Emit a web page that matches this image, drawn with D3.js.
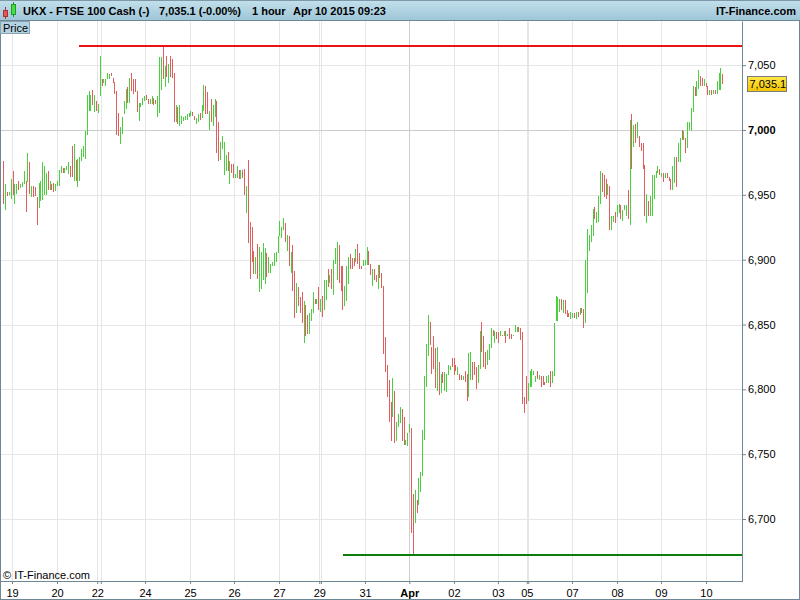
<!DOCTYPE html>
<html><head><meta charset="utf-8">
<script src="https://cdn.jsdelivr.net/npm/d3@7"></script>
<style>html,body{margin:0;padding:0;background:#fff;}svg{display:block;font-family:Arial,"Liberation Sans",sans-serif;}</style>
</head><body>
<svg id="chart" width="800" height="600"></svg>
<script>
// ---- data (hourly candles, Mar 19 - Apr 10 2015) ----
const opens = [
6976,6938,6952,6950,6947,6968,6943,6951,6961,6955,6956,6958,6961,6960,6975,6948,6957,6956,6948,6940,
6945,6946,6950,6950,6968,6954,6958,6959,6953,6957,6957,6967,6971,6967,6969,6966,6972,6988,6961,6977,
6956,6961,6976,6979,6978,6996,7015,7015,7031,7014,7022,7013,7026,7039,7036,7034,7039,7039,7044,7040,
7037,7030,7013,6989,6997,7012,7016,7033,7021,7044,7039,7039,7030,7007,7018,7019,7022,7027,7024,7020,
7020,7025,7023,7010,7013,7031,7065,7033,7057,7036,7057,7055,7044,7006,7018,7003,7005,7007,7008,7008,
7010,
7011,7014,7011,7005,7006,7013,7009,7015,7034,7029,7000,7024,7003,7010,7022,7006,6977,6985,6965,6968,
6983,6958,6974,6974,6963,6963,6969,6962,6969,6970,6936,6977,6929,6925,6907,6889,6912,6875,6877,6884,
6881,6905,6890,6890,6895,6895,6898,6905,6918,6917,6923,6928,6907,6918,6890,6911,6891,6859,6879,6871,
6875,6836,6865,6857,6843,6853,6859,6870,6866,6879,6860,6872,6861,6869,6893,6882,6893,6873,6897,6884,
6911,6895,6895,6864,6868,6881,6904,6901,6901,6898,6912,6905,6895,6895,6896,6896,6907,6897,6880,6893,
6888,6877,
6896,6890,
6880,6840,6819,6807,6790,6779,6799,6760,6771,6774,6785,6779,6757,6756,6766,6770,6719,6697,6715,6711,
6721,6733,6761,6802,6826,6852,6833,6841,6832,6799,6821,6797,6813,6799,6798,6811,6815,6824,6824,6819,
6811,6812,6811,6807,6814,6812,6794,6807,6821,6821,6817,6805,6816,6852,6841,6829,6819,6823,6832,6846,
6836,6844,6844,6841,6842,6841,6845,6841,6847,6843,6841,6844,6844,6848,6847,6844,6794,6810,6791,6802,
6802,6811,6806,6814,6807,6810,6810,6806,6805,6805,6814,6805,6810,6853,6853,6860,
6870,6859,6869,6861,6859,6854,6855,6859,6854,6860,6857,6863,6862,6851,6874,6907,6914,6918,6941,6928,
6929,6943,6967,6965,6962,6950,6957,6923,6929,6937,6933,6936,6942,6930,6938,6934,6954,6927,7012,6987,
7005,6994,6995,6990,6990,6973,6928,6945,6934,6934,6947,6963,6967,6970,6964,6967,6963,6967,6964,6962,
6954,6959,6979,6975,6975,7000,6992,6994,6986,7000,6999,7014,7033,7026,7032,7042,7040,7034,7036,7034,
7027,7031,7028,7031,7028,7031,7031,7043
];
const closes = [
6943,6958,6949,6952,6962,6950,6958,6958,6954,6958,6960,6968,6937,6982,6951,6957,6948,6949,6927,6959,
6961,6975,6972,6967,6954,6961,6954,6952,6958,6961,6969,6972,6967,6971,6972,6975,6964,6964,6989,6961,
6978,6979,6985,6988,6999,7027,7030,7027,7019,7027,7015,7020,7057,7034,7039,7039,7044,7043,7042,7036,
7028,6996,6995,7002,7010,7022,7032,7021,7040,7030,7028,7029,7014,7021,7021,7025,7026,7023,7020,7024,
7026,7019,7020,7026,7056,7056,7039,7049,7041,7051,7041,7040,7006,7019,7005,7019,7011,7010,7011,7012,
7013,
7015,7011,7008,7009,7012,7008,7019,7035,7012,7012,7015,7006,7019,7024,6982,6976,6991,6995,6991,6981,
6968,6976,6967,6963,6966,6972,6962,6969,6963,6950,6957,6913,6885,6898,6889,6902,6885,6910,6906,6913,
6909,6887,6902,6897,6898,6905,6906,6918,6930,6925,6932,6914,6919,6895,6906,6876,6855,6882,6864,6859,
6851,6868,6841,6843,6859,6862,6875,6866,6870,6861,6870,6856,6884,6884,6879,6888,6877,6900,6909,6914,
6882,6876,6861,6880,6895,6902,6893,6893,6895,6908,6897,6893,6893,6900,6900,6910,6896,6888,6893,6884,
6883,6896,
6886,6878,
6827,6813,6794,6775,6760,6809,6759,6775,6781,6786,6760,6757,6761,6766,6773,6689,6672,6722,6705,6732,
6736,6769,6810,6835,6857,6834,6812,6816,6801,6833,6796,6812,6805,6813,6812,6819,6818,6817,6811,6814,
6817,6807,6807,6810,6806,6791,6828,6829,6807,6811,6800,6819,6845,6829,6817,6816,6830,6835,6847,6841,
6845,6839,6836,6845,6841,6845,6836,6843,6839,6839,6842,6850,6848,6844,6838,6789,6782,6789,6805,6814,
6816,6814,6810,6808,6811,6802,6803,6803,6810,6811,6802,6814,6851,6872,6871,6870,
6861,6869,6858,6856,6856,6860,6859,6855,6860,6856,6863,6859,6847,6900,6924,6919,6927,6939,6931,6937,
6949,6968,6952,6948,6947,6958,6923,6934,6934,6928,6942,6943,6931,6938,6942,6942,6931,7008,6970,7004,
6990,7006,6987,6984,6970,6934,6951,6934,6949,6965,6965,6968,6972,6965,6967,6960,6967,6963,6961,6954,
6972,6979,6956,6990,6994,6992,6999,6982,7006,7006,7017,7034,7026,7038,7046,7034,7034,7039,7033,7027,
7031,7027,7031,7028,7038,7044,7048,7035.1
];
const priceTicks = [6700,6750,6800,6850,6900,6950,7000,7050];
// day separators, expressed in bar-index units
const dayStarts = [4.7,29,50.7,52.6,76.5,100.8,124.5,148.8,170.5,171.4,195.2,219.1,243.2,266.9,282.5,283.3,306.9,331.2,354.9,379.2];
const dayLabels = ["19","20","22","","24","25","26","27","29","","31","Apr","02","03","05","","07","08","09","10"];
const resistanceLine = [40.85, 7065];   // [start bar, price]
const supportLine = [183.3, 6672];
const lastPrice = 7035.1;
const titleParts = ["UKX - FTSE 100 Cash (-)", "7,035.1 (-0.00%)", "1 hour", "Apr 10 2015 09:23"];

// ---- drawing ----
const svg = d3.select("#chart");
const frame = "#6e8795";
const upCol = "#4ccf3f", downCol = "#df5f5f";
const N = opens.length;
const x = d3.scaleLinear().domain([0, N - 1]).range([3.3, 722.3]);
const y = d3.scaleLinear().domain([6652.2, 7084.06]).range([581, 21]);
const px = v => Math.round(v) + 0.5;

const defs = svg.append("defs");
const hg = defs.append("linearGradient").attr("id","hdr").attr("x1",0).attr("y1",0).attr("x2",0).attr("y2",1);
hg.append("stop").attr("offset","0%").attr("stop-color","#c3e0ec");
hg.append("stop").attr("offset","100%").attr("stop-color","#9fc6d8");
const yg = defs.append("linearGradient").attr("id","ylw").attr("x1",0).attr("y1",0).attr("x2",0).attr("y2",1);
yg.append("stop").attr("offset","0%").attr("stop-color","#ffe84a");
yg.append("stop").attr("offset","100%").attr("stop-color","#f2c400");

svg.append("rect").attr("width",800).attr("height",600).attr("fill","#fff");

// grid
const grid = svg.append("g").attr("shape-rendering","crispEdges");
grid.selectAll("line.v").data(dayStarts).join("line")
  .attr("x1", d => px(x(d))).attr("x2", d => px(x(d)))
  .attr("y1", 21).attr("y2", 581)
  .attr("stroke", (d,i) => dayLabels[i] === "Apr" ? "#cdcdcd" : "#e6e6e6");
grid.selectAll("line.h").data(priceTicks).join("line")
  .attr("x1", 0).attr("x2", 742)
  .attr("y1", d => px(y(d))).attr("y2", d => px(y(d)))
  .attr("stroke", d => d === 7000 ? "#cdcdcd" : "#e6e6e6");

// candles
svg.append("g").attr("shape-rendering","crispEdges")
  .selectAll("rect").data(d3.range(N)).join("rect")
  .attr("x", i => Math.round(x(i)))
  .attr("y", i => Math.round(y(Math.max(opens[i], closes[i]))))
  .attr("width", 1)
  .attr("height", i => Math.max(1, Math.round(y(Math.min(opens[i], closes[i]))) - Math.round(y(Math.max(opens[i], closes[i])))))
  .attr("fill", i => closes[i] >= opens[i] ? upCol : downCol);

// horizontal levels
svg.append("line").attr("x1", x(resistanceLine[0])).attr("x2", 742)
  .attr("y1", Math.round(y(resistanceLine[1]))).attr("y2", Math.round(y(resistanceLine[1])))
  .attr("stroke","#ee1111").attr("stroke-width",2).attr("shape-rendering","crispEdges");
svg.append("line").attr("x1", x(supportLine[0])).attr("x2", 742)
  .attr("y1", Math.round(y(supportLine[1]))).attr("y2", Math.round(y(supportLine[1])))
  .attr("stroke","#0b7d0b").attr("stroke-width",2).attr("shape-rendering","crispEdges");

// right price axis
const ya = svg.append("g").attr("transform","translate(742,0)")
  .call(d3.axisRight(y).tickValues(priceTicks).tickSize(4).tickSizeOuter(0).tickPadding(2).tickFormat(d3.format(",")));
ya.select(".domain").attr("stroke", frame);
ya.selectAll(".tick line").attr("stroke", frame);
ya.selectAll(".tick text").attr("font-size", 11).attr("font-family","Arial, 'Liberation Sans', sans-serif")
  .attr("fill","#000").attr("font-weight", d => d === 7000 ? "bold" : "normal");

// bottom time axis
const xa = svg.append("g").attr("transform","translate(0,581)")
  .call(d3.axisBottom(x).tickValues(dayStarts).tickSize(3).tickSizeOuter(0).tickFormat((d,i) => dayLabels[i]));
xa.select(".domain").remove();
xa.selectAll(".tick line").attr("stroke", frame);
xa.selectAll(".tick text").attr("font-size", 11).attr("font-family","Arial, 'Liberation Sans', sans-serif")
  .attr("fill","#000").attr("y", 15.5).attr("dy", 0)
  .attr("font-weight", (d,i) => dayLabels[i] === "Apr" ? "bold" : "normal");

// frame lines
const fr = svg.append("g").attr("stroke", frame).attr("shape-rendering","crispEdges");
fr.append("line").attr("x1",0).attr("x2",743).attr("y1",581.5).attr("y2",581.5);
fr.append("line").attr("x1",0.5).attr("x2",0.5).attr("y1",20).attr("y2",600);
fr.append("line").attr("x1",0).attr("x2",800).attr("y1",599.5).attr("y2",599.5);
fr.append("line").attr("x1",799.5).attr("x2",799.5).attr("y1",20).attr("y2",600);

// last price tag
const ly = y(lastPrice);
svg.append("rect").attr("x",747.5).attr("y",Math.round(ly)-7.5).attr("width",39).attr("height",15)
  .attr("fill","url(#ylw)").attr("stroke","#7a7a7a");
svg.append("text").attr("x",749.5).attr("y",Math.round(ly)+4).attr("font-size",11).attr("fill","#000").text(d3.format(",.1f")(lastPrice));

// header
svg.append("rect").attr("x",0).attr("y",0).attr("width",800).attr("height",20).attr("fill","url(#hdr)");
svg.append("line").attr("x1",0).attr("x2",800).attr("y1",0.5).attr("y2",0.5).attr("stroke","#7d98a6");
svg.append("line").attr("x1",0).attr("x2",800).attr("y1",20.5).attr("y2",20.5).attr("stroke",frame);
const ic = svg.append("g").attr("shape-rendering","crispEdges");
ic.append("line").attr("x1",5.5).attr("x2",5.5).attr("y1",7).attr("y2",19).attr("stroke","#a33");
ic.append("rect").attr("x",3.5).attr("y",10.5).attr("width",4).attr("height",6).attr("fill","#e85555").attr("stroke","#a33");
ic.append("line").attr("x1",13.5).attr("x2",13.5).attr("y1",2).attr("y2",17).attr("stroke","#292");
ic.append("rect").attr("x",11.5).attr("y",4.5).attr("width",4).attr("height",10).attr("fill","#44dd44").attr("stroke","#292");
const hx = [23, 159, 252, 293];
svg.selectAll("text.ttl").data(titleParts).join("text")
  .attr("x", (d,i) => hx[i]).attr("y", 15).attr("font-size", 11).attr("font-weight","bold").attr("fill","#000").text(d => d);
svg.append("text").attr("x",796).attr("y",15).attr("text-anchor","end").attr("font-size",11).attr("font-weight","bold").attr("fill","#000").text("IT-Finance.com");

// "Price" pane tag
svg.append("rect").attr("x",0.5).attr("y",21.5).attr("width",29).attr("height",12).attr("fill","#b4d3e2").attr("stroke","#8aa3b0");
svg.append("text").attr("x",3).attr("y",31.5).attr("font-size",11).attr("fill","#000").text("Price");

// copyright
svg.append("text").attr("x",3).attr("y",578.5).attr("font-size",11).attr("fill","#000").text("\u00a9 IT-Finance.com");
</script>
</body></html>
